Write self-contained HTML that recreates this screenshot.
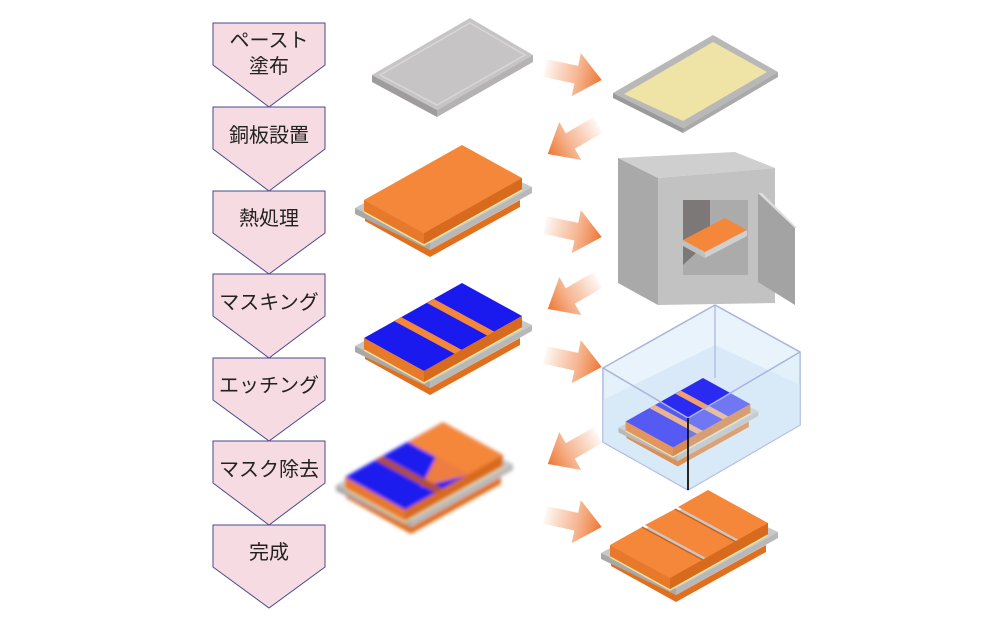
<!DOCTYPE html>
<html><head><meta charset="utf-8"><style>
html,body{margin:0;padding:0;background:#fff;}
svg{display:block;}
text{font-family:"Liberation Sans","Noto Sans CJK JP",sans-serif;font-size:20px;fill:#222;text-anchor:middle;}
</style></head><body>
<svg width="1000" height="633" viewBox="0 0 1000 633" xmlns="http://www.w3.org/2000/svg">
<defs>
<linearGradient id="ag" x1="0" y1="0" x2="1" y2="0">
<stop offset="0" stop-color="#f07a3a" stop-opacity="0.05"/>
<stop offset="0.55" stop-color="#f08a50" stop-opacity="0.6"/>
<stop offset="1" stop-color="#ee7430"/>
</linearGradient>
<g id="arrow"><polygon points="0,-9 32,-9 32,-22 58,0 32,22 32,9 0,9" fill="url(#ag)"/></g>
<filter id="bl"><feGaussianBlur stdDeviation="1.8"/></filter>
<g id="base">
<polygon points="365,214 430,250 520,200 520,207 430,257 365,221" fill="#e0701e"/>
<polygon points="355,208 458,152 532,187 430,243" fill="#c8c8c8"/>
<polygon points="355,208 430,243 430,250 355,214" fill="#a8a8a8"/>
<polygon points="430,243 532,187 532,193 430,250" fill="#b8b8b8"/>
</g>
<g id="slabside">
<polygon points="364,200 424,233 424,245 364,212" fill="#e8782a"/>
<polygon points="424,233 522,178 522,190 424,245" fill="#d86a1e"/>
<polyline points="364,212 424,245 522,190" fill="none" stroke="#f3e3a0" stroke-width="1.5"/>
</g>
</defs>

<g fill="#f6dbe3" stroke="#4a4a8a" stroke-width="1">
<polygon points="213,23 325,23 325,65 269,107 213,65"/>
<polygon points="213,107 325,107 325,149 269,191 213,149"/>
<polygon points="213,191 325,191 325,233 269,274 213,233"/>
<polygon points="213,274 325,274 325,316 269,358 213,316"/>
<polygon points="213,358 325,358 325,400 269,441 213,400"/>
<polygon points="213,441 325,441 325,483 269,525 213,483"/>
<polygon points="213,525 325,525 325,567 269,608 213,567"/>
</g>
<text x="269" y="47">ペースト</text>
<text x="269" y="73">塗布</text>
<text x="269" y="142">銅板設置</text>
<text x="269" y="225">熱処理</text>
<text x="269" y="309">マスキング</text>
<text x="269" y="392">エッチング</text>
<text x="269" y="476">マスク除去</text>
<text x="269" y="559">完成</text>

<polygon points="372,75 470,18 533,55 437,110" fill="#c6c4c4"/>
<polygon points="372,75 437,110 437,117 372,82" fill="#9e9c9c"/>
<polygon points="437,110 533,55 533,62 437,117" fill="#b4b2b2"/>
<polygon points="380,75 470,23 525,55 437,105" fill="none" stroke="#d8d6d6" stroke-width="1.5"/>

<polygon points="613,93 713,35 778,72 683,128" fill="#b8b8b8"/>
<polygon points="613,93 683,128 683,133 613,98" fill="#9a9a9a"/>
<polygon points="683,128 778,72 778,77 683,133" fill="#aaa"/>
<polygon points="624,94 713,42 767,72 683,121" fill="#efe3a6"/>

<use href="#base"/>
<polygon points="364,200 462,145 522,178 424,233" fill="#f5873a"/>
<use href="#slabside"/>

<polygon points="618,158 735,152 775,168 658,178" fill="#cfcfcf"/>
<polygon points="618,158 658,178 658,305 618,283" fill="#a9a9a9"/>
<polygon points="658,178 775,168 775,303 658,305" fill="#c2c2c2"/>
<rect x="683" y="200" width="65" height="75" fill="#ababab"/>
<polygon points="683,200 710,200 710,240 683,265" fill="#7c7878"/>
<polygon points="683,240 725,218 747,230 705,252" fill="#f5873a"/>
<polygon points="683,240 705,252 705,258 683,246" fill="#c0c0c0"/>
<polygon points="705,252 747,230 747,236 705,258" fill="#d0d0d0"/>
<polygon points="758,193 795,228 795,305 758,282" fill="#a3a3a3"/>
<polygon points="758,193 762,193 797,228 795,228" fill="#ddd"/>

<g transform="translate(0,138)">
<use href="#base"/>
<polygon points="364,200 462,145 522,178 424,233" fill="#1a1aee"/>
<polygon points="394,183 401,179 462,212 455,216" fill="#f5873a"/>
<polygon points="427,165 434,161 495,194 488,198" fill="#f5873a"/>
<use href="#slabside"/>
</g>

<!-- tank -->
<polygon points="603,368 715,305 800,352 800,425 688,490 603,442" fill="#e2f0fa" fill-opacity="0.8" stroke="#a9b4dd" stroke-width="1.5"/>
<polygon points="603,400 715,345 800,385 800,425 688,490 603,442" fill="#cfe3f5" fill-opacity="0.6"/>
<g transform="translate(703,378) scale(0.79) translate(-462,-145)">
<use href="#base"/>
<polygon points="364,200 462,145 522,178 424,233" fill="#2a2af0"/>
<polygon points="394,183 401,179 462,212 455,216" fill="#f0a070"/>
<polygon points="427,165 434,161 495,194 488,198" fill="#f0a070"/>
<use href="#slabside"/>
</g>
<polygon points="688,418 800,352 800,425 688,490" fill="#d8ebf8" fill-opacity="0.4"/>
<polygon points="603,368 688,418 688,490 603,442" fill="#d8ebf8" fill-opacity="0.25"/>
<polyline points="603,368 688,418 800,352" fill="none" stroke="#a9b4dd" stroke-width="1.5"/>
<line x1="715" y1="305" x2="715" y2="378" stroke="#a9b4dd" stroke-width="1.2"/>
<line x1="688" y1="418" x2="688" y2="490" stroke="#111" stroke-width="1.8"/>

<g transform="translate(-19,277)" filter="url(#bl)">
<use href="#base"/>
<polygon points="364,200 462,145 522,178 424,233" fill="#1a1aee"/>
<polygon points="427,165 462,145 522,178 488,198" fill="#f5873a"/>
<polygon points="427,165 455,180 440,210 488,198" fill="#ef7d40"/>
<polygon points="394,183 401,179 462,212 455,216" fill="#b05030"/>
<use href="#slabside"/>
</g>

<g transform="translate(246,345)">
<use href="#base"/>
<polygon points="364,200 396,182 457,215 424,233" fill="#f5873a"/>
<polygon points="399,180 429,164 490,197 460,213" fill="#f5873a"/>
<polygon points="432,162 462,145 522,178 493,195" fill="#f5873a"/>
<line x1="457" y1="215" x2="396" y2="182" stroke="#c86020" stroke-width="1.5"/>
<line x1="490" y1="197" x2="429" y2="164" stroke="#c86020" stroke-width="1.5"/>
<use href="#slabside"/>
</g>

<use href="#arrow" transform="translate(545,68) rotate(12)"/>
<use href="#arrow" transform="translate(545,225) rotate(12)"/>
<use href="#arrow" transform="translate(545,355) rotate(12)"/>
<use href="#arrow" transform="translate(545,515) rotate(12)"/>
<use href="#arrow" transform="translate(598,125) rotate(150)"/>
<use href="#arrow" transform="translate(598,280) rotate(150)"/>
<use href="#arrow" transform="translate(598,435) rotate(150)"/>
</svg>
</body></html>
